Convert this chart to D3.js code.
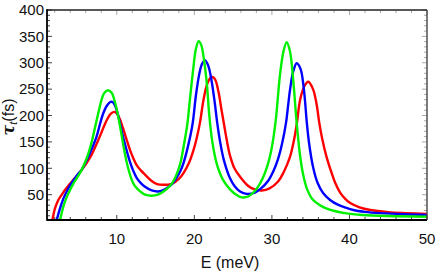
<!DOCTYPE html>
<html>
<head>
<meta charset="utf-8">
<script src="https://cdn.jsdelivr.net/npm/d3@7"></script>
<style>
  body { margin: 0; background: #fff; }
  svg { display: block; font-family: "Liberation Sans", Arial, sans-serif; }
</style>
</head>
<body>
<svg id="chart_svg" width="436" height="273"></svg>
<script>
// tick values
const xTicks = [10, 20, 30, 40, 50];
const yTicks = [50, 100, 150, 200, 250, 300, 350, 400];

// [E (meV), tau_t (fs)]
const redPoints = [
  [1.6, -3], [1.69, 2], [2.03, 24], [2.46, 40], [3.0, 52], [3.32, 59], [3.8, 68], [4.39, 78],
  [5.0, 88], [5.47, 97], [6.1, 110], [6.76, 126], [7.3, 143], [7.83, 161], [8.3, 178],
  [8.7, 191], [9.2, 203], [9.64, 207], [10.0, 204], [10.4, 193], [10.8, 176], [11.27, 154],
  [11.7, 135], [12.1, 120], [12.56, 106], [13.1, 96], [13.64, 88], [14.5, 76],
  [15.2, 70], [16.0, 68.7], [17.1, 70.6], [18.0, 80], [18.6, 91], [19.3, 110], [19.9, 135],
  [20.3, 157], [20.73, 187], [21.15, 227], [21.58, 256], [22.0, 270], [22.32, 273],
  [22.66, 269], [23.1, 246], [23.5, 211], [23.83, 183], [24.2, 152], [24.6, 124], [25.2, 99],
  [25.9, 84], [27.0, 66], [27.8, 60], [28.7, 58], [29.7, 62], [30.8, 75], [31.5, 92],
  [32.3, 120], [32.8, 150], [33.2, 183], [33.64, 230], [34.2, 256], [34.7, 264], [35.3, 250],
  [35.77, 221], [36.1, 187], [36.5, 155], [37.0, 124], [37.5, 100], [38.2, 71], [38.8, 54],
  [39.4, 43], [40.1, 34], [41.3, 26], [42.7, 21], [45, 17], [47.5, 15], [50, 13.4]
];

const bluePoints = [
  [2.15, -3], [2.25, 2], [2.68, 24], [3.1, 42], [3.54, 56], [4.0, 68], [4.6, 81], [5.0, 89],
  [5.47, 97], [5.9, 109], [6.33, 122], [6.8, 138], [7.35, 158], [7.8, 182], [8.2, 202],
  [8.7, 218], [9.21, 226], [9.5, 225], [9.77, 219], [10.1, 204], [10.4, 186], [10.7, 166],
  [11.03, 147], [11.4, 127], [11.7, 112], [12.1, 96], [12.56, 82], [13.1, 72], [13.64, 65],
  [14.5, 58], [15.35, 56], [16.2, 60], [17.1, 70], [17.7, 82], [18.2, 95], [18.6, 110],
  [19.2, 143], [19.78, 185], [20.2, 238], [20.63, 278], [20.97, 297], [21.37, 305],
  [21.8, 294], [22.23, 265], [22.66, 221], [22.96, 185], [23.3, 152], [23.8, 116],
  [24.6, 81], [25.2, 66], [25.9, 56], [26.75, 51.5], [27.8, 54], [28.6, 62], [29.5, 76],
  [30.2, 95], [30.8, 118], [31.3, 146], [31.82, 186], [32.1, 220], [32.33, 248],
  [32.76, 284], [33.2, 299], [33.7, 288], [34.05, 259], [34.27, 228], [34.48, 190],
  [34.8, 147], [35.3, 103], [35.9, 72], [36.6, 53], [37.5, 40], [38.5, 31], [39.4, 26],
  [40.5, 21], [42, 17.5], [44, 15], [47, 12.8], [50, 11.5]
];

const greenPoints = [
  [2.58, -3], [2.68, 2], [3.1, 27], [3.5, 44], [3.97, 59], [4.4, 71], [4.83, 81], [5.47, 97],
  [6.12, 119], [6.5, 136], [6.85, 155], [7.2, 178], [7.62, 205], [8.0, 228], [8.35, 242],
  [8.85, 248], [9.34, 243], [9.65, 231], [9.99, 212], [10.3, 189], [10.63, 162],
  [10.95, 135], [11.28, 111], [11.6, 93], [11.9, 79], [12.3, 67], [12.78, 59], [13.2, 54],
  [13.64, 50], [14.5, 48], [15.3, 50], [16.2, 58], [17.1, 71], [17.7, 88], [18.2, 110],
  [18.6, 140], [19.09, 183], [19.44, 232], [19.87, 290], [20.2, 326], [20.56, 341],
  [20.9, 333], [21.2, 310], [21.6, 262], [21.93, 200], [22.3, 152], [22.9, 108],
  [23.7, 78], [24.6, 60], [25.3, 51], [26.1, 45], [27.0, 47], [27.8, 57], [28.5, 72],
  [29.1, 91], [29.6, 114], [29.97, 138], [30.49, 190], [31.05, 278], [31.5, 322],
  [31.9, 339], [32.33, 322], [32.76, 265], [33.2, 185], [33.6, 128], [34.0, 90],
  [34.5, 62], [35.2, 42], [36.0, 32], [37.0, 24], [38.1, 19], [39.4, 15], [41.7, 11.5],
  [45, 9.5], [50, 8.3]
];

const seriesList = [
  { points: redPoints, color: "#ff0000" },
  { points: bluePoints, color: "#0000ff" },
  { points: greenPoints, color: "#00f000" }
];

const svg = d3.select("#chart_svg");
const width = 436;
const height = 273;

const margin = { top: 10, right: 9, bottom: 53, left: 47 };

const xScale = d3.scaleLinear()
  .domain([1, 50])
  .range([margin.left, width - margin.right]);

const yScale = d3.scaleLinear()
  .domain([2, 400])
  .range([height - margin.bottom, margin.top]);

// clip region for the curves
svg.append("clipPath")
  .attr("id", "plot_clip")
  .append("rect")
  .attr("x", margin.left)
  .attr("y", margin.top)
  .attr("width", width - margin.left - margin.right)
  .attr("height", height - margin.top - margin.bottom);

// minor tick values
const xMinor = d3.range(2, 50, 2).filter(d => d % 10 !== 0);
const yMinor = d3.range(10, 400, 10).filter(d => d % 50 !== 0);

const g_ticks = svg.append("g");
const x0 = margin.left, x1 = width - margin.right;
const y0 = height - margin.bottom, y1 = margin.top;

// bottom + top ticks (pointing inward)
xTicks.concat(xMinor).forEach(d => {
  const len = xTicks.includes(d) ? 5 : 3;
  g_ticks.append("line")
    .attr("x1", xScale(d)).attr("x2", xScale(d))
    .attr("y1", y0).attr("y2", y0 - len)
    .attr("stroke", "#444").attr("stroke-width", 1);
  g_ticks.append("line")
    .attr("x1", xScale(d)).attr("x2", xScale(d))
    .attr("y1", y1).attr("y2", y1 + len)
    .attr("stroke", "#aaa").attr("stroke-width", 1);
});

// left + right ticks
yTicks.concat(yMinor).forEach(d => {
  const len = yTicks.includes(d) ? 5 : 3;
  g_ticks.append("line")
    .attr("x1", x0).attr("x2", x0 + len)
    .attr("y1", yScale(d)).attr("y2", yScale(d))
    .attr("stroke", "#444").attr("stroke-width", 1);
  g_ticks.append("line")
    .attr("x1", x1).attr("x2", x1 - len)
    .attr("y1", yScale(d)).attr("y2", yScale(d))
    .attr("stroke", "#aaa").attr("stroke-width", 1);
});

// curves
const line = d3.line()
  .x(d => xScale(d[0]))
  .y(d => yScale(d[1]))
  .curve(d3.curveCatmullRom.alpha(0.5));

const g_chart = svg.append("g").attr("clip-path", "url(#plot_clip)");

g_chart.selectAll("path")
  .data(seriesList)
  .enter()
  .append("path")
  .attr("fill", "none")
  .attr("stroke", d => d.color)
  .attr("stroke-width", 2.4)
  .attr("stroke-linejoin", "round")
  .attr("d", d => line(d.points));

// frame
svg.append("line")
  .attr("x1", x0).attr("x2", x1).attr("y1", y1).attr("y2", y1)
  .attr("stroke", "#222").attr("stroke-width", 1.4);
svg.append("line")
  .attr("x1", x1).attr("x2", x1).attr("y1", y1).attr("y2", y0)
  .attr("stroke", "#444").attr("stroke-width", 1.4);
svg.append("line")
  .attr("x1", x0).attr("x2", x0).attr("y1", y1 - 0.7).attr("y2", y0 + 0.7)
  .attr("stroke", "#000").attr("stroke-width", 1.8);
svg.append("line")
  .attr("x1", x0).attr("x2", x1).attr("y1", y0).attr("y2", y0)
  .attr("stroke", "#000").attr("stroke-width", 1.8);

// tick labels
svg.selectAll(".x_tick_label")
  .data(xTicks)
  .enter()
  .append("text")
  .attr("class", "x_tick_label")
  .attr("x", d => xScale(d))
  .attr("y", 244)
  .attr("text-anchor", "middle")
  .attr("font-size", 15)
  .attr("fill", "#111")
  .text(d => d);

svg.selectAll(".y_tick_label")
  .data(yTicks)
  .enter()
  .append("text")
  .attr("class", "y_tick_label")
  .attr("x", margin.left - 3)
  .attr("y", d => yScale(d) + 5.3)
  .attr("text-anchor", "end")
  .attr("font-size", 15)
  .attr("fill", "#111")
  .text(d => d);

// axis labels
svg.append("text")
  .attr("x", 230)
  .attr("y", 268)
  .attr("text-anchor", "middle")
  .attr("font-size", 16)
  .attr("fill", "#111")
  .text("E (meV)");

const y_label = svg.append("text")
  .attr("transform", "translate(14,117) rotate(-90)")
  .attr("text-anchor", "middle")
  .attr("font-size", 16)
  .attr("fill", "#111");
y_label.append("tspan")
  .attr("font-style", "italic")
  .attr("font-weight", "bold")
  .attr("font-family", "DejaVu Serif, serif")
  .text("τ");
y_label.append("tspan")
  .attr("font-style", "italic")
  .attr("font-size", 11)
  .attr("dy", 3)
  .text("t");
y_label.append("tspan")
  .attr("dy", -3)
  .text("(fs)");
</script>
</body>
</html>
